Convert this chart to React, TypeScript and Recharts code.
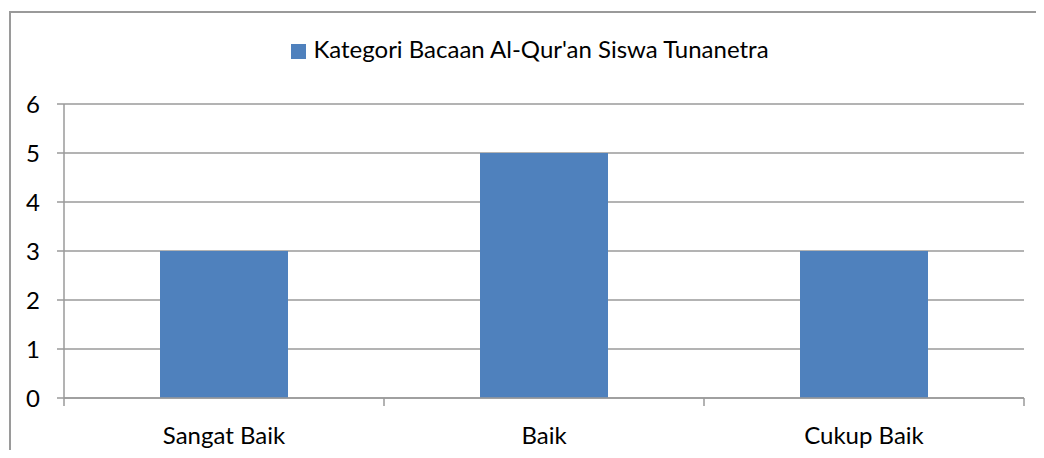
import React from 'react';
import { BarChart, Bar, XAxis, YAxis, CartesianGrid, Legend } from 'recharts';

const categories = ['Sangat Baik', 'Baik', 'Cukup Baik'];
const values = [3, 5, 3];
const yTicks = [0, 1, 2, 3, 4, 5, 6];
const seriesName = "Kategori Bacaan Al-Qur'an Siswa Tunanetra";

const data = categories.map((name, i) => ({ name, value: values[i] }));

const FONT = 'Lato, "Open Sans", sans-serif';
const FS = 24;
const GREY = '#9a9a9a';
const BAND = 320;

const CategoryTick = (props: any) => {
  const { x, y, payload, index } = props;
  return (
    <g>
      <line x1={x - BAND / 2} y1={y} x2={x - BAND / 2} y2={y + 8} stroke={GREY} strokeWidth={1.5} />
      {index === categories.length - 1 && (
        <line x1={x + BAND / 2} y1={y} x2={x + BAND / 2} y2={y + 8} stroke={GREY} strokeWidth={1.5} />
      )}
      <text x={x} y={y + 46} textAnchor="middle" fill="#000" fontSize={FS} fontFamily={FONT}>
        {payload.value}
      </text>
    </g>
  );
};

export default function App() {
  return (
    <div style={{ position: 'relative', width: 1044, height: 458, margin: -8, overflow: 'hidden', background: '#fff' }}>
      <div
        style={{
          position: 'absolute',
          left: 9,
          top: 11,
          width: 1100,
          height: 500,
          border: `2px solid ${GREY}`,
          boxSizing: 'border-box',
        }}
      />
      <div style={{ position: 'absolute', left: 0, top: 0 }}>
        <BarChart
          width={1044}
          height={458}
          data={data}
          margin={{ top: 104, right: 20, left: 0, bottom: 0 }}
          barCategoryGap="30%"
        >
          <CartesianGrid vertical={false} stroke={GREY} strokeWidth={1.5} />
          <Legend
            verticalAlign="top"
            iconType="square"
            iconSize={15}
            wrapperStyle={{
              position: 'absolute',
              top: 34,
              left: 13,
              width: 1044,
              height: 0,
              fontFamily: FONT,
              fontSize: FS,
            }}
            formatter={(v) => <span style={{ color: '#000', marginLeft: 3 }}>{v}</span>}
          />
          <XAxis
            dataKey="name"
            height={60}
            tickLine={false}
            tickSize={0}
            tickMargin={0}
            axisLine={{ stroke: GREY, strokeWidth: 1.5 }}
            tick={<CategoryTick />}
            interval={0}
          />
          <YAxis
            width={64}
            domain={[0, 6]}
            ticks={yTicks}
            interval={0}
            tickSize={7}
            tickMargin={17}
            axisLine={{ stroke: GREY, strokeWidth: 1.5 }}
            tickLine={{ stroke: GREY, strokeWidth: 1.5 }}
            tick={{ fill: '#000', fontSize: FS, fontFamily: FONT }}
          />
          <Bar dataKey="value" name={seriesName} fill="#4F81BD" isAnimationActive={false} />
        </BarChart>
      </div>
    </div>
  );
}
